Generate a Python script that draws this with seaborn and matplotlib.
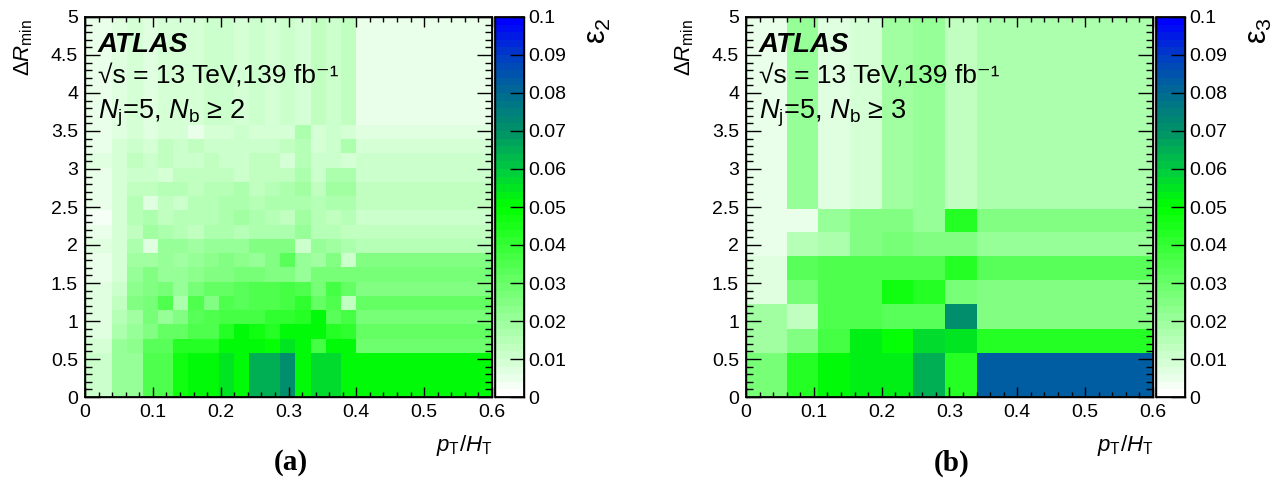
import numpy as np
import pandas as pd
import matplotlib
matplotlib.use("Agg")
import matplotlib.pyplot as plt
import seaborn as sns
from matplotlib.colors import LinearSegmentedColormap
from matplotlib.ticker import MultipleLocator, FuncFormatter, NullLocator

# ---------------- data ----------------
# panel (a): Nj=5, Nb>=2   (bin edges in pT/HT and DeltaR_min)
a_x_edges = [0, 0.04, 0.0625, 0.085, 0.1075, 0.13, 0.1525, 0.175, 0.1975, 0.22,
             0.2425, 0.265, 0.2875, 0.31, 0.3325, 0.355, 0.3775, 0.40, 0.60]
a_y_edges = [0, 0.58, 0.7675, 0.955, 1.1425, 1.33, 1.5175, 1.705, 1.8925, 2.08,
             2.2675, 2.455, 2.6425, 2.83, 3.0175, 3.205, 3.3925, 3.58, 5.0]
# rows: DeltaR bins from bottom to top; columns: pT/HT bins from left to right
a_eps2 = [
    [0.011, 0.020, 0.022, 0.034, 0.034, 0.046, 0.050, 0.050, 0.055, 0.050, 0.065, 0.065, 0.070, 0.050, 0.058, 0.058, 0.052, 0.050],
    [0.008, 0.021, 0.023, 0.032, 0.032, 0.042, 0.042, 0.042, 0.050, 0.050, 0.050, 0.049, 0.056, 0.051, 0.038, 0.051, 0.050, 0.029],
    [0.007, 0.017, 0.022, 0.026, 0.030, 0.030, 0.036, 0.036, 0.042, 0.050, 0.046, 0.042, 0.050, 0.050, 0.050, 0.044, 0.040, 0.030],
    [0.006, 0.015, 0.019, 0.028, 0.021, 0.026, 0.032, 0.036, 0.038, 0.038, 0.038, 0.040, 0.040, 0.042, 0.050, 0.032, 0.038, 0.028],
    [0.006, 0.012, 0.025, 0.028, 0.034, 0.017, 0.034, 0.026, 0.034, 0.032, 0.036, 0.036, 0.038, 0.040, 0.030, 0.034, 0.013, 0.030],
    [0.006, 0.011, 0.023, 0.026, 0.028, 0.022, 0.028, 0.030, 0.030, 0.032, 0.034, 0.034, 0.037, 0.034, 0.028, 0.038, 0.030, 0.024],
    [0.005, 0.009, 0.021, 0.025, 0.021, 0.021, 0.023, 0.026, 0.026, 0.028, 0.028, 0.025, 0.026, 0.021, 0.028, 0.028, 0.028, 0.027],
    [0.005, 0.008, 0.019, 0.019, 0.021, 0.019, 0.021, 0.023, 0.025, 0.023, 0.021, 0.025, 0.033, 0.021, 0.019, 0.026, 0.011, 0.025],
    [0.006, 0.008, 0.017, 0.007, 0.021, 0.021, 0.019, 0.021, 0.021, 0.021, 0.025, 0.025, 0.024, 0.011, 0.021, 0.019, 0.017, 0.015],
    [0.004, 0.008, 0.013, 0.019, 0.017, 0.015, 0.013, 0.017, 0.017, 0.015, 0.017, 0.017, 0.018, 0.021, 0.015, 0.015, 0.013, 0.012],
    [0.003, 0.008, 0.015, 0.017, 0.013, 0.015, 0.015, 0.015, 0.017, 0.019, 0.017, 0.015, 0.012, 0.019, 0.015, 0.013, 0.015, 0.011],
    [0.004, 0.008, 0.015, 0.006, 0.013, 0.011, 0.015, 0.015, 0.017, 0.016, 0.015, 0.017, 0.016, 0.017, 0.015, 0.017, 0.017, 0.013],
    [0.005, 0.008, 0.013, 0.013, 0.015, 0.015, 0.013, 0.015, 0.015, 0.017, 0.013, 0.015, 0.016, 0.019, 0.013, 0.019, 0.019, 0.014],
    [0.004, 0.008, 0.011, 0.011, 0.009, 0.013, 0.013, 0.013, 0.013, 0.011, 0.013, 0.013, 0.013, 0.017, 0.011, 0.017, 0.017, 0.011],
    [0.006, 0.008, 0.013, 0.011, 0.013, 0.011, 0.011, 0.013, 0.011, 0.011, 0.012, 0.013, 0.009, 0.015, 0.011, 0.011, 0.008, 0.010],
    [0.005, 0.008, 0.011, 0.009, 0.013, 0.011, 0.014, 0.011, 0.011, 0.011, 0.011, 0.011, 0.012, 0.015, 0.008, 0.011, 0.016, 0.009],
    [0.004, 0.007, 0.008, 0.007, 0.008, 0.008, 0.004, 0.009, 0.008, 0.010, 0.009, 0.008, 0.008, 0.016, 0.008, 0.010, 0.008, 0.006],
    [0.004, 0.006, 0.008, 0.007, 0.008, 0.008, 0.008, 0.011, 0.010, 0.009, 0.010, 0.009, 0.010, 0.008, 0.012, 0.010, 0.013, 0.005],
]

# panel (b): Nj=5, Nb>=3
b_x_edges = [0, 0.06, 0.1067, 0.1533, 0.20, 0.2467, 0.2933, 0.34, 0.60]
b_y_edges = [0, 0.58, 0.90, 1.22, 1.54, 1.86, 2.17, 2.48, 5.0]
b_eps3 = [
    [0.028, 0.042, 0.050, 0.053, 0.053, 0.065, 0.042, 0.083],
    [0.019, 0.026, 0.038, 0.054, 0.048, 0.058, 0.056, 0.042],
    [0.019, 0.013, 0.036, 0.036, 0.032, 0.032, 0.071, 0.026],
    [0.006, 0.028, 0.034, 0.034, 0.046, 0.042, 0.028, 0.026],
    [0.007, 0.032, 0.034, 0.034, 0.036, 0.034, 0.042, 0.032],
    [0.004, 0.015, 0.017, 0.025, 0.028, 0.026, 0.026, 0.021],
    [0.004, 0.005, 0.021, 0.026, 0.026, 0.021, 0.042, 0.026],
    [0.004, 0.021, 0.007, 0.008, 0.019, 0.021, 0.013, 0.017],
]

# ---------------- style ----------------
sns.set_theme(style="ticks")
plt.rcParams["font.family"] = ["Liberation Sans", "DejaVu Sans"]
plt.rcParams["mathtext.fontset"] = "custom"
plt.rcParams["mathtext.rm"] = "Liberation Sans"
plt.rcParams["mathtext.it"] = "Liberation Sans:italic"
plt.rcParams["mathtext.bf"] = "Liberation Sans:bold"
plt.rcParams["axes.axisbelow"] = False
plt.rcParams["text.color"] = "black"
plt.rcParams["xtick.color"] = "black"
plt.rcParams["ytick.color"] = "black"
plt.rcParams["xtick.labelcolor"] = "black"
plt.rcParams["ytick.labelcolor"] = "black"
plt.rcParams["axes.edgecolor"] = "black"

cmap = LinearSegmentedColormap.from_list(
    "root_wgb",
    [(0.0, (1, 1, 1)), (0.5, (0, 1, 0)), (0.6, (0, 0.80, 0.25)),
     (0.7, (0, 0.58, 0.40)), (0.8, (0, 0.43, 0.56)), (0.9, (0, 0.25, 0.76)),
     (1.0, (0, 0, 1))], N=50)

W, H = 1279, 484
fig = plt.figure(figsize=(W / 100, H / 100), dpi=100)
fmt = FuncFormatter(lambda v, p: f"{v:g}")


def px_rect(x0, y0, x1, y1):
    return [x0 / W, (H - y1) / H, (x1 - x0) / W, (y1 - y0) / H]


def panel(xoff, xedges, yedges, values, nb_text, eps_label, tag):
    rect = px_rect(85 + xoff, 17, 492 + xoff, 397)
    crect = px_rect(495 + xoff, 17, 524 + xoff, 397)
    ax = fig.add_axes(rect, zorder=1)
    cax = fig.add_axes(crect, zorder=1)
    xc = [(xedges[i] + xedges[i + 1]) / 2 for i in range(len(xedges) - 1)]
    yc = [(yedges[j] + yedges[j + 1]) / 2 for j in range(len(yedges) - 1)]
    recs = [(xc[i], yc[j], v) for j, row in enumerate(values) for i, v in enumerate(row)]
    df = pd.DataFrame(recs, columns=["pt_ht", "dr", "eps"])
    sns.histplot(data=df, x="pt_ht", y="dr", weights="eps",
                 bins=[list(xedges), list(yedges)], cmap=cmap, thresh=None,
                 cbar=True, cbar_ax=cax, ax=ax)
    ax.collections[0].set_clim(0, 0.1)
    ax.set_xlim(0, 0.6)
    ax.set_ylim(0, 5)
    ax.set_xlabel("")
    ax.set_ylabel("")
    ax.tick_params(which="both", bottom=False, top=False, left=False, right=False,
                   labelbottom=False, labelleft=False)
    cax.tick_params(which="both", left=False, right=False, labelleft=False, labelright=False)
    cax.set_ylabel("")

    # transparent frame on top of the histogram that carries the ROOT-style ticks
    tax = fig.add_axes(rect, zorder=5, facecolor="none")
    tax.set_xlim(0, 0.6)
    tax.set_ylim(0, 5)
    tax.xaxis.set_major_locator(MultipleLocator(0.1))
    tax.xaxis.set_minor_locator(MultipleLocator(0.02))
    tax.yaxis.set_major_locator(MultipleLocator(0.5))
    tax.yaxis.set_minor_locator(MultipleLocator(0.1))
    tax.xaxis.set_major_formatter(fmt)
    tax.yaxis.set_major_formatter(fmt)
    tax.tick_params(axis="x", which="major", direction="in", top=True, bottom=True,
                    length=7.5, width=1, pad=5, labelsize=14, color="black")
    tax.tick_params(axis="x", which="minor", direction="in", top=True, bottom=True,
                    length=3.8, width=1, color="black")
    tax.tick_params(axis="y", which="major", direction="in", left=True, right=True,
                    length=10.5, width=1, pad=5, labelsize=14, color="black")
    tax.tick_params(axis="y", which="minor", direction="in", left=True, right=True,
                    length=5, width=1, color="black")
    for s in tax.spines.values():
        s.set_visible(True)
        s.set_linewidth(1)
        s.set_color("black")

    tcax = fig.add_axes(crect, zorder=5, facecolor="none")
    tcax.set_ylim(0, 0.1)
    tcax.set_xlim(0, 1)
    tcax.xaxis.set_major_locator(NullLocator())
    tcax.xaxis.set_minor_locator(NullLocator())
    tcax.yaxis.set_major_locator(MultipleLocator(0.01))
    tcax.yaxis.set_minor_locator(NullLocator())
    tcax.yaxis.set_major_formatter(fmt)
    tcax.yaxis.tick_right()
    tcax.tick_params(axis="y", which="major", direction="in", length=10, width=1,
                     labelsize=14, pad=3, right=True, left=False, labelright=True,
                     labelleft=False, color="black")
    for s in tcax.spines.values():
        s.set_visible(True)
        s.set_linewidth(1)
        s.set_color("black")

    fig.text((598 + xoff) / W, 1 - 17 / H, eps_label, rotation=90,
             ha="center", va="top", fontsize=22)

    # axis titles
    tax.text(1.0, -0.095, r"$p_{\mathrm{T}}/H_{\mathrm{T}}$", transform=tax.transAxes,
             ha="right", va="top", fontsize=16)
    fig.text((24 + xoff) / W, 1 - 19 / H, r"$\Delta R_{\mathrm{min}}$", rotation=90,
             ha="center", va="top", fontsize=16)

    # labels inside
    tax.text(0.032, 0.909, "ATLAS", transform=tax.transAxes, ha="left", va="baseline",
             fontsize=20, fontweight="bold", fontstyle="italic")
    tax.text(0.032, 0.824, "√s = 13 TeV,139 fb⁻¹", transform=tax.transAxes,
             ha="left", va="baseline", fontsize=19,
             family=["Liberation Sans", "DejaVu Sans"])
    tax.text(0.032, 0.734, nb_text, transform=tax.transAxes,
             ha="left", va="baseline", fontsize=19.5)

    fig.text((291 + xoff) / W, 1 - 463 / H, tag, ha="center", va="center",
             fontsize=21, fontweight="bold", family=["Liberation Serif", "DejaVu Serif"])


panel(0, a_x_edges, a_y_edges, a_eps2, r"$N_{\mathrm{j}}$=5, $N_{\mathrm{b}}$ ≥ 2",
      r"ε$_{2}$", "(a)")
panel(661, b_x_edges, b_y_edges, b_eps3, r"$N_{\mathrm{j}}$=5, $N_{\mathrm{b}}$ ≥ 3",
      r"ε$_{3}$", "(b)")

fig.savefig("out.png", dpi=100, facecolor="white")
